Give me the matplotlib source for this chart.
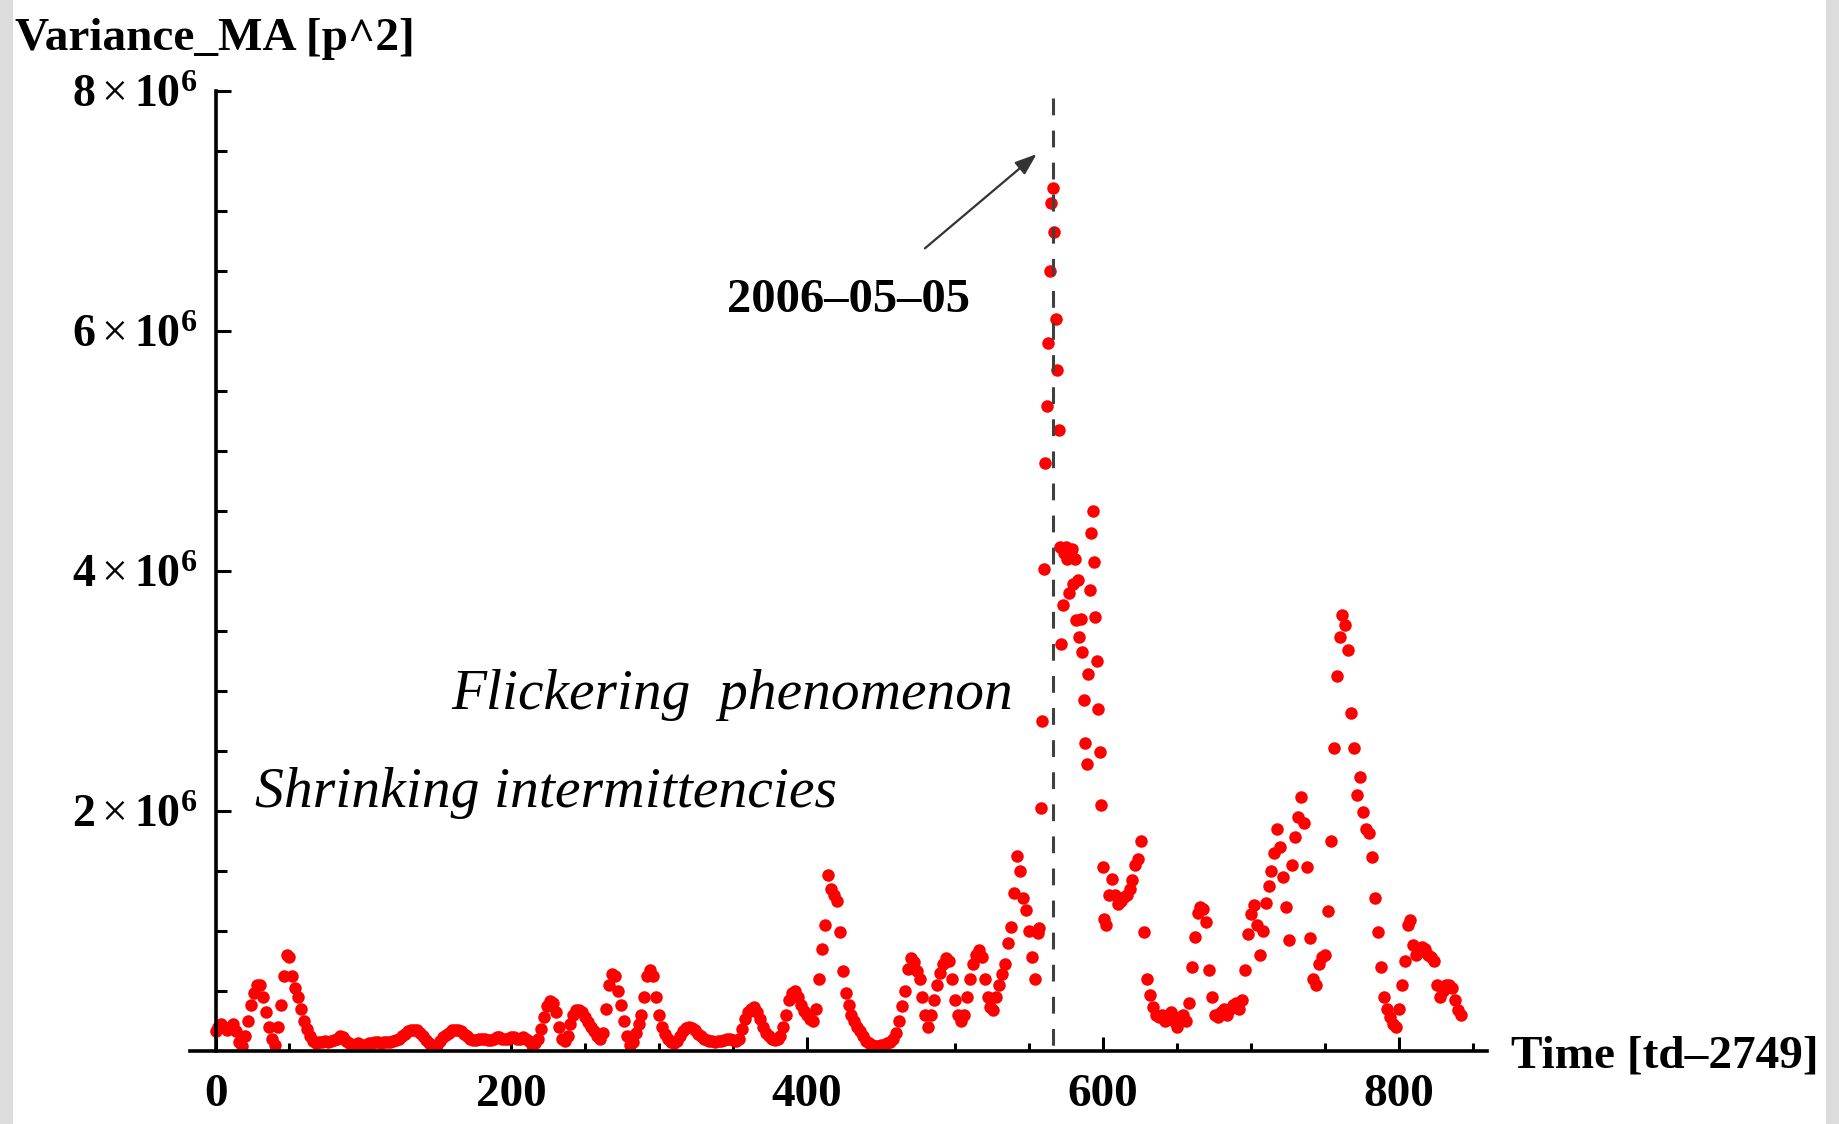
#!/usr/bin/env python3
"""
Variance_MA 时间序列散点图 (2006-05-05 事件标注)
"""

import numpy as np
import matplotlib
matplotlib.use('Agg')
import matplotlib.pyplot as plt
from matplotlib.ticker import FixedLocator, FuncFormatter
from matplotlib.patches import Rectangle

# 字体设置 (Times 风格)
plt.rcParams['font.family'] = ['Liberation Serif', 'DejaVu Serif']
plt.rcParams['mathtext.fontset'] = 'custom'
plt.rcParams['mathtext.rm'] = 'Liberation Serif'
plt.rcParams['mathtext.bf'] = 'Liberation Serif:bold'
plt.rcParams['mathtext.it'] = 'Liberation Serif:italic'

# 数据 (单位: 10^6 p^2)
# t = 0, 2, 4, ..., 554
var_early = [
    0.16, 0.20, 0.22, 0.20, 0.17, 0.20, 0.22, 0.16, 0.07, 0.04,
    0.12, 0.25, 0.38, 0.48, 0.55, 0.55, 0.45, 0.32, 0.20, 0.10,
    0.05, 0.20, 0.38, 0.62, 0.80, 0.78, 0.62, 0.52, 0.45, 0.35,
    0.25, 0.18, 0.12, 0.08, 0.06, 0.07, 0.07, 0.08, 0.07, 0.08,
    0.09, 0.10, 0.12, 0.11, 0.08, 0.06, 0.05, 0.05, 0.06, 0.05,
    0.05, 0.05, 0.06, 0.06, 0.07, 0.07, 0.06, 0.07, 0.07, 0.07,
    0.08, 0.09, 0.10, 0.12, 0.14, 0.16, 0.17, 0.17, 0.17, 0.15,
    0.12, 0.09, 0.06, 0.05, 0.04, 0.05, 0.08, 0.11, 0.13, 0.15,
    0.17, 0.17, 0.17, 0.16, 0.14, 0.12, 0.10, 0.09, 0.09, 0.10,
    0.10, 0.10, 0.09, 0.09, 0.10, 0.11, 0.11, 0.10, 0.10, 0.10,
    0.11, 0.11, 0.10, 0.10, 0.11, 0.10, 0.08, 0.05, 0.06, 0.10,
    0.18, 0.28, 0.37, 0.41, 0.40, 0.32, 0.20, 0.10, 0.08, 0.12,
    0.22, 0.30, 0.34, 0.34, 0.32, 0.28, 0.24, 0.20, 0.16, 0.12,
    0.10, 0.15, 0.35, 0.55, 0.64, 0.62, 0.50, 0.38, 0.25, 0.12,
    0.05, 0.07, 0.15, 0.22, 0.30, 0.45, 0.62, 0.67, 0.62, 0.45,
    0.30, 0.20, 0.14, 0.10, 0.07, 0.06, 0.08, 0.12, 0.16, 0.19,
    0.20, 0.19, 0.17, 0.14, 0.12, 0.10, 0.09, 0.08, 0.08, 0.07,
    0.08, 0.08, 0.09, 0.10, 0.10, 0.09, 0.08, 0.10, 0.18, 0.26,
    0.32, 0.35, 0.36, 0.32, 0.26, 0.20, 0.15, 0.12, 0.10, 0.09,
    0.10, 0.12, 0.20, 0.30, 0.42, 0.48, 0.50, 0.45, 0.38, 0.33,
    0.30, 0.26, 0.25, 0.35, 0.60, 0.85, 1.05, 1.46, 1.35, 1.30,
    1.25, 0.99, 0.66, 0.48, 0.38, 0.30, 0.25, 0.20, 0.16, 0.12,
    0.08, 0.06, 0.05, 0.04, 0.04, 0.05, 0.05, 0.06, 0.07, 0.10,
    0.15, 0.25, 0.37, 0.50, 0.68, 0.77, 0.74, 0.66, 0.60, 0.45,
    0.30, 0.20, 0.30, 0.42, 0.55, 0.65, 0.72, 0.77, 0.75, 0.60,
    0.42, 0.30, 0.25, 0.30, 0.45, 0.60, 0.72, 0.80, 0.84, 0.78,
    0.60, 0.45, 0.36, 0.34, 0.45, 0.55, 0.64, 0.72, 0.90, 1.03,
    1.31, 1.62, 1.50, 1.27, 1.17, 1.00, 0.78, 0.60,
]
# t = 556 ... 601 (逐日)
var_peak = [
    0.98, 1.02, 2.02, 2.75, 4.01, 4.90, 5.37, 5.90, 6.50, 7.06,
    7.19, 6.82, 6.10, 5.67, 5.17, 4.20, 3.39, 3.71, 4.15, 4.20,
    4.10, 3.81, 4.12, 4.18, 3.89, 4.10, 3.59, 3.92, 3.45, 3.60,
    3.32, 2.92, 2.56, 2.39, 3.14, 3.84, 4.31, 4.50, 4.07, 3.61,
    3.25, 2.85, 2.49, 2.05, 1.53, 1.10,
]
# t = 602, 604, ..., 842
var_late = [
    1.05, 1.30, 1.43, 1.30, 1.22, 1.25, 1.28, 1.30, 1.35, 1.42,
    1.55, 1.60, 1.75, 0.99, 0.60, 0.46, 0.36, 0.30, 0.28, 0.30,
    0.25, 0.30, 0.32, 0.25, 0.20, 0.28, 0.30, 0.25, 0.40, 0.70,
    0.95, 1.15, 1.20, 1.18, 1.07, 0.67, 0.45, 0.30, 0.28, 0.32,
    0.35, 0.30, 0.35, 0.38, 0.40, 0.35, 0.42, 0.67, 0.97, 1.14,
    1.21, 1.05, 0.80, 1.00, 1.23, 1.37, 1.50, 1.65, 1.85, 1.70,
    1.45, 1.20, 0.92, 1.55, 1.78, 1.95, 2.11, 1.90, 1.53, 0.94,
    0.60, 0.55, 0.72, 0.78, 0.80, 1.16, 1.75, 2.52, 3.12, 3.45,
    3.63, 3.55, 3.34, 2.81, 2.52, 2.13, 2.28, 1.99, 1.85, 1.81,
    1.61, 1.27, 0.99, 0.70, 0.45, 0.35, 0.28, 0.22, 0.20, 0.35,
    0.55, 0.75, 1.05, 1.09, 0.88, 0.80, 0.82, 0.86, 0.85, 0.80,
    0.78, 0.75, 0.55, 0.45, 0.50, 0.55, 0.55, 0.52, 0.42, 0.34,
    0.30,
]

t_early = np.arange(len(var_early)) * 2
t_peak = 556 + np.arange(len(var_peak))
t_late = 602 + np.arange(len(var_late)) * 2

event_day = 566
event_label = '2006–05–05'
x_ticks = [0, 200, 400, 600, 800]
y_ticks = [2e6, 4e6, 6e6, 8e6]

W, H = 1839, 1124

fig = plt.figure(figsize=(W / 100, H / 100), dpi=100)
# 左右两侧的灰色边框
fig.add_artist(Rectangle((0, 0), 13 / W, 1, transform=fig.transFigure,
                         color='#dcdcdc', lw=0))
fig.add_artist(Rectangle((1826 / W, 0), 13 / W, 1, transform=fig.transFigure,
                         color='#dcdcdc', lw=0))

ax = fig.add_axes([190.4 / W, (H - 1050.5) / H, 1297.0 / W, 960.0 / H])

t_all = np.concatenate([t_early, t_peak, t_late])
v_all = np.concatenate([var_early, var_peak, var_late]) * 1e6
ax.plot(t_all, v_all, 'o', color='#ff0000', ms=9, mew=0, zorder=2)

# 事件日期竖线 + 箭头
ax.plot([event_day, event_day], [7.94e6, 0], color='#404040', lw=2.2,
        dashes=(5.5, 5), zorder=3)
ax.annotate('', xy=(555.2, 7.47e6), xytext=(479.7, 6.685e6),
            arrowprops=dict(arrowstyle='-|>,head_length=0.6,head_width=0.22',
                            mutation_scale=22, color='#333333', lw=1.6,
                            shrinkA=0, shrinkB=0))
ax.text(428.3, 6.154e6, event_label, ha='center', va='baseline',
        fontsize=35, fontweight='bold')

ax.text(159.6, 2.842e6, 'Flickering  phenomenon', ha='left', va='baseline',
        fontsize=41.3, style='italic')
ax.text(26.4, 2.029e6, 'Shrinking intermittencies', ha='left', va='baseline',
        fontsize=41.6, style='italic')

ax.set_xlim(-17, 860)
ax.set_ylim(0, 8e6)

for side in ['top', 'right']:
    ax.spines[side].set_visible(False)
ax.spines['left'].set_position(('data', 0))
ax.spines['left'].set_linewidth(2.6)
ax.spines['bottom'].set_linewidth(2.6)

ax.xaxis.set_major_locator(FixedLocator(x_ticks))
ax.xaxis.set_minor_locator(FixedLocator(np.arange(50, 860, 50)))
ax.yaxis.set_major_locator(FixedLocator(y_ticks))
ax.yaxis.set_minor_locator(FixedLocator(np.arange(0.5e6, 8e6, 0.5e6)))
ax.yaxis.set_major_formatter(FuncFormatter(
    lambda v, _: r'$\mathbf{%d}\times\mathbf{10}^{\mathbf{6}}$' % round(v / 1e6)))

ax.tick_params(axis='x', which='major', direction='in', length=10, width=2.2,
               pad=17, labelsize=34)
ax.tick_params(axis='x', which='minor', direction='in', length=6, width=2.2)
ax.tick_params(axis='y', which='major', direction='in', length=11, width=2.2,
               pad=13, labelsize=33)
ax.tick_params(axis='y', which='minor', direction='in', length=8, width=2.2)
for lab in ax.get_xticklabels():
    lab.set_fontweight('bold')

fig.text(15 / W, (H - 50) / H, 'Variance_MA [p^2]', fontsize=34,
         fontweight='bold', ha='left', va='baseline')
fig.text(1510.6 / W, (H - 1067) / H, 'Time [td–2749]', fontsize=34,
         fontweight='bold', ha='left', va='baseline')

fig.savefig('out.png', dpi=100)
